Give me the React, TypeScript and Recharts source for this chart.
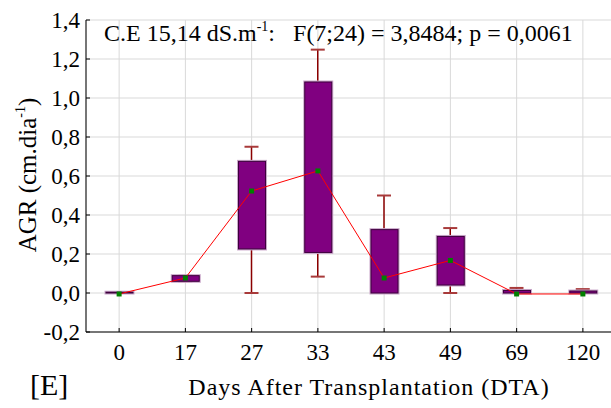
import React from 'react';
import {
  ComposedChart,
  Bar,
  Line,
  XAxis,
  YAxis,
  CartesianGrid,
} from 'recharts';

// days after transplantation
const categories = ['0', '17', '27', '33', '43', '49', '69', '120'];
// whisker ends and box edges (cm.dia-1)
const whiskerLow = [0, 0.06, 0, 0.084, 0, 0, 0, 0];
const boxLow = [0, 0.06, 0.226, 0.208, 0, 0.041, 0, 0];
const boxHigh = [0.004, 0.089, 0.675, 1.082, 0.325, 0.29, 0.013, 0.01];
const whiskerHigh = [0.004, 0.089, 0.75, 1.248, 0.5, 0.333, 0.026, 0.02];
const means = [-0.005, 0.077, 0.523, 0.626, 0.077, 0.167, -0.005, -0.005];
const yTicks = [-0.2, 0, 0.2, 0.4, 0.6, 0.8, 1.0, 1.2, 1.4];

const data = categories.map((cat, i) => ({
  cat,
  whisker: [whiskerLow[i], whiskerHigh[i]],
  box: [boxLow[i], boxHigh[i]],
  mean: means[i],
}));

const FONT = '"Liberation Serif", "Times New Roman", serif';

const fmt = (v: number) => v.toFixed(1).replace('.', ',');

const WhiskerShape = (props: any) => {
  const { x, y, width, height } = props;
  const top = Math.min(y, y + height);
  const bottom = Math.max(y, y + height);
  const cx = x + width / 2;
  return (
    <g>
      <line x1={cx} x2={cx} y1={top} y2={bottom} stroke="#8b0000" strokeWidth={1.5} />
      <line x1={x} x2={x + width} y1={top} y2={top} stroke="#a83a3a" strokeWidth={2} />
      <line x1={x} x2={x + width} y1={bottom} y2={bottom} stroke="#a83a3a" strokeWidth={2} />
    </g>
  );
};

const BoxShape = (props: any) => {
  const { x, y, width, height } = props;
  const top = Math.min(y, y + height);
  const h = Math.abs(height);
  return (
    <g>
      <rect x={x} y={top} width={width} height={h} fill="none" stroke="#c9a6c9" strokeWidth={3} />
      <rect x={x} y={top} width={width} height={h} fill="#800080" stroke="#3d003d" strokeWidth={1} />
    </g>
  );
};

const MeanDot = (props: any) => {
  const { cx, cy } = props;
  if (cx == null || cy == null) return null;
  return <rect x={cx - 2.5} y={cy - 2.5} width={5} height={5} fill="#008000" />;
};

const YTick = (props: any) => {
  const { x, y, payload } = props;
  return (
    <text x={x} y={y + 7.5} textAnchor="end" fontFamily={FONT} fontSize={23} fill="#000">
      {fmt(payload.value)}
    </text>
  );
};

const XTick = (props: any) => {
  const { x, payload } = props;
  return (
    <text x={x} y={360} textAnchor="middle" fontFamily={FONT} fontSize={23} fill="#000">
      {payload.value}
    </text>
  );
};

const supStyle = { fontSize: 14, verticalAlign: 'top', lineHeight: '14px' } as const;

export default function App() {
  return (
    <div
      style={{
        position: 'absolute',
        left: 0,
        top: 0,
        width: 611,
        height: 408,
        overflow: 'hidden',
        background: '#fff',
        fontFamily: FONT,
      }}
    >
      <ComposedChart
        width={620}
        height={408}
        data={data}
        margin={{ top: 20, right: 4, bottom: 46, left: 0 }}
      >
        <CartesianGrid stroke="#d9d9d9" strokeWidth={1} />
        <XAxis
          dataKey="cat"
          height={30}
          stroke="#000"
          tickSize={-4}
          tickMargin={12}
          tick={<XTick />}
          interval={0}
        />
        <XAxis dataKey="cat" xAxisId="w" hide />
        <YAxis
          width={86}
          domain={[-0.2, 1.4]}
          ticks={yTicks}
          allowDataOverflow
          stroke="#000"
          tickSize={-4}
          tickMargin={10}
          tick={<YTick />}
          interval={0}
        />
        <Bar
          dataKey="whisker"
          xAxisId="w"
          barSize={14}
          shape={<WhiskerShape />}
          isAnimationActive={false}
        />
        <Bar dataKey="box" barSize={27} shape={<BoxShape />} isAnimationActive={false} />
        <Line
          dataKey="mean"
          stroke="#ff0000"
          strokeWidth={1}
          dot={<MeanDot />}
          activeDot={false}
          isAnimationActive={false}
        />
      </ComposedChart>

      <div
        style={{
          position: 'absolute',
          left: 104,
          top: 20,
          fontSize: 24,
          whiteSpace: 'nowrap',
          lineHeight: '26px',
        }}
      >
        C.E 15,14 dS.m<sup style={supStyle}>-1</sup>:&nbsp;&nbsp; F(7;24) = 3,8484; p = 0,0061
      </div>

      <div
        style={{
          position: 'absolute',
          left: 28,
          top: 175,
          transform: 'translate(-50%, -50%) rotate(-90deg)',
          fontSize: 25,
          whiteSpace: 'nowrap',
          lineHeight: '28px',
        }}
      >
        AGR (cm.dia<sup style={supStyle}>-1</sup>)
      </div>

      <div
        style={{
          position: 'absolute',
          left: 0,
          width: 738,
          top: 374,
          textAlign: 'center',
          fontSize: 24,
          letterSpacing: 1,
          whiteSpace: 'nowrap',
          lineHeight: '26px',
        }}
      >
        Days After Transplantation (DTA)
      </div>

      <div
        style={{
          position: 'absolute',
          left: 30,
          top: 368,
          fontSize: 30,
          lineHeight: '34px',
        }}
      >
        [E]
      </div>
    </div>
  );
}
